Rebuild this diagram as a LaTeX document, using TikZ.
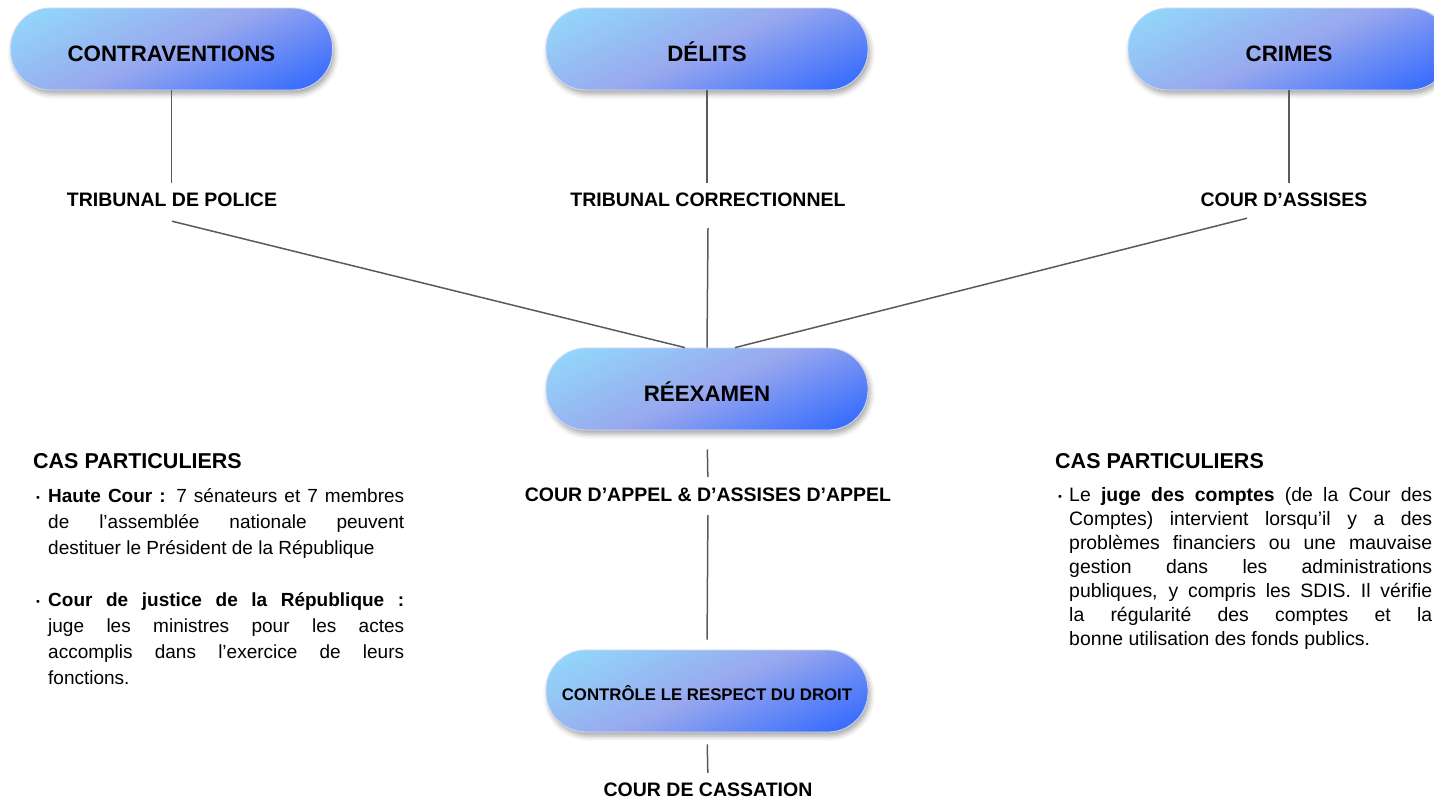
\documentclass[tikz,border=0pt]{standalone}
\usepackage{fontspec}
\setmainfont{Liberation Sans}
\usetikzlibrary{shadows.blur,calc}
\definecolor{gA}{HTML}{92DCFB}
\definecolor{gB}{HTML}{98A8EE}
\definecolor{gC}{HTML}{2B64FF}
\definecolor{lineC}{HTML}{5A5A5A}
\pgfdeclareverticalshading{pillshade}{100bp}{color(0bp)=(gC); color(17bp)=(gC); color(50bp)=(gB); color(83bp)=(gA); color(100bp)=(gA)}
\newcommand{\bul}[1]{\makebox[#1][l]{\raisebox{0.5pt}{\fontsize{11}{11}\selectfont •}}}
\begin{document}
\begin{tikzpicture}[x=1pt,y=-1pt,
  pill/.style={rounded corners=40pt, minimum width=322pt, minimum height=82pt, inner sep=0pt,
    shade, shading=pillshade, shading angle=25,
    draw=white!55!gB, line width=0.8pt,
    blur shadow={shadow xshift=2pt, shadow yshift=-4pt, shadow blur radius=5pt, shadow opacity=35},
    font=\fontsize{22.3}{24}\selectfont\bfseries, text height=24.5pt, text depth=0pt},
  lbl/.style={font=\fontsize{19.5}{22}\selectfont\bfseries, inner sep=0pt, text height=14pt, text depth=0pt},
  head/.style={font=\fontsize{21.5}{24}\selectfont\bfseries, inner sep=0pt, text height=15.5pt, text depth=0pt},
  para/.style={inner sep=0pt, align=justify, anchor=north west},
  conn/.style={draw=lineC, line width=1.5pt}]
\useasboundingbox (0,0) rectangle (1434,798);

% boxes
\node[pill] (c1) at (171.5,49) {CONTRAVENTIONS};
\node[pill] (c2) at (707,49) {DÉLITS};
\node[pill] (c3) at (1289,49) {CRIMES};
\node[pill] (rx) at (707,389) {RÉEXAMEN};
\node[pill, font=\fontsize{16.8}{20}\selectfont\bfseries, text height=18pt] (ct) at (707,691) {CONTRÔLE LE RESPECT DU DROIT};

% labels
\node[lbl] (tp) at (172,199) {TRIBUNAL DE POLICE};
\node[lbl] (tc) at (708,199) {TRIBUNAL CORRECTIONNEL};
\node[lbl] (ca) at (1284,199) {COUR D’ASSISES};
\node[lbl] (ap) at (708,494) {COUR D’APPEL \& D’ASSISES D’APPEL};
\node[lbl] (cc) at (708,789) {COUR DE CASSATION};

% connectors
\draw[conn, shorten >=9pt] (c1.south) -- (c1.south |- tp.north);
\draw[conn, shorten >=9pt] (c2.south) -- (c2.south |- tc.north);
\draw[conn, shorten >=9pt] (c3.south) -- (c3.south |- ca.north);
\draw[conn] ([yshift=-15pt]tp.south) -- ($(rx.north)+(-22,0)$);
\draw[conn] ([yshift=-22pt]tc.south) -- (rx.north);
\draw[conn] ([xshift=-37pt,yshift=-12pt]ca.south) -- ($(rx.north)+(28,0)$);
\draw[conn, shorten <=19pt, shorten >=10pt] (rx.south) -- (ap.north);
\draw[conn, shorten <=14pt, shorten >=10pt] (ap.south) -- (ct.north);
\draw[conn, shorten <=12pt, shorten >=9pt] (ct.south) -- (cc.north);

% side texts
\node[head, anchor=west] (h1) at (33,461) {CAS PARTICULIERS};
\node[head, anchor=west] (h2) at (1055,461) {CAS PARTICULIERS};

\node[para, text width=368pt, font=\fontsize{19}{26}\selectfont] (p1) at (36,487) {\parskip=0pt
\noindent\hangindent=12pt\hangafter=1\rule{0pt}{15pt}\bul{12pt}\textbf{Haute Cour :} 7 sénateurs et 7 membres\linebreak de l’assemblée nationale peuvent\linebreak destituer le Président de la République\par
\vspace{26pt}
\noindent\hangindent=12pt\hangafter=1\bul{12pt}\textbf{Cour de justice de la République :}\linebreak juge les ministres pour les actes\linebreak accomplis dans l’exercice de leurs\linebreak fonctions.\par};

\node[para, text width=374pt, font=\fontsize{19.4}{24}\selectfont] (p2) at (1058,486) {\parskip=0pt
\noindent\hangindent=11pt\hangafter=1\rule{0pt}{15pt}\bul{11pt}Le \textbf{juge des comptes} (de la Cour des\linebreak Comptes) intervient lorsqu’il y a des\linebreak problèmes financiers ou une mauvaise\linebreak gestion dans les administrations\linebreak publiques, y compris les SDIS. Il vérifie\linebreak la régularité des comptes et la\linebreak bonne utilisation des fonds publics.\par};
\end{tikzpicture}
\end{document}
